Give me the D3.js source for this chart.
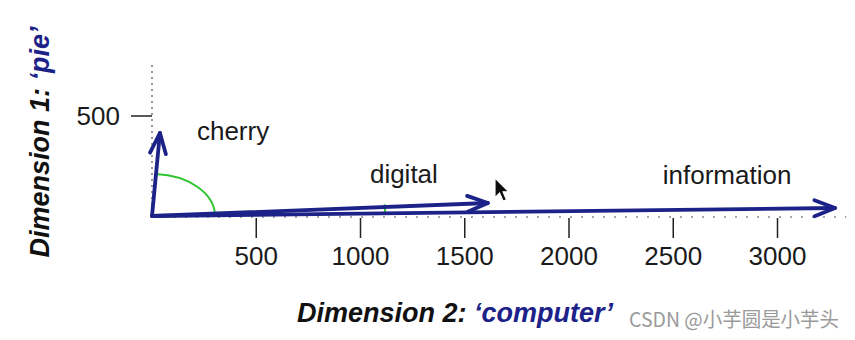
<!DOCTYPE html>
<html>
<head>
<meta charset="utf-8">
<script src="https://cdn.jsdelivr.net/npm/d3@7"></script>
<style>
  html, body { margin: 0; padding: 0; background: #fff; }
  svg { display: block; }
</style>
</head>
<body>
<svg id="chart" width="855" height="340"></svg>
<script>
// Term vectors in the two-dimensional count space
const terms = ["cherry", "digital", "information"];
const computerCounts = [38, 1611, 3276];   // dimension 2
const pieCounts = [415, 65, 40];           // dimension 1
const xTickValues = [500, 1000, 1500, 2000, 2500, 3000];
const yTickValues = [500];
const xTitleParts = ["Dimension 2: ", "\u2018computer\u2019"];
const yTitleParts = ["Dimension 1: ", "\u2018pie\u2019"];
const watermark = "CSDN @\u5c0f\u828b\u5706\u662f\u5c0f\u828b\u5934";

const W = 855, H = 340;
const navy = "#1c2288";
const green = "#2fc52f";
const font = "'Liberation Sans', Arial, Helvetica, sans-serif";

const svg = d3.select("#chart");

const x = d3.scaleLinear().domain([0, 3000]).range([152, 777.5]);
const y = d3.scaleLinear().domain([0, 500]).range([216, 116]);

const vectors = terms.map((t, i) => ({ term: t, cx: computerCounts[i], py: pieCounts[i] }));

// Dotted axis lines through the origin
svg.append("line")
  .attr("x1", x(0)).attr("x2", x(0))
  .attr("y1", y(0) - 151).attr("y2", y(0))
  .attr("stroke", "#555").attr("stroke-width", 1.2)
  .attr("stroke-dasharray", "2,4");

svg.append("line")
  .attr("x1", x(0)).attr("x2", x(3330))
  .attr("y1", y(0) + 1).attr("y2", y(0) + 1)
  .attr("stroke", "#888").attr("stroke-width", 1.6)
  .attr("stroke-dasharray", "2,9");

// X axis ticks and labels
const xt = svg.append("g");
xt.selectAll("line").data(xTickValues).join("line")
  .attr("x1", d => x(d)).attr("x2", d => x(d))
  .attr("y1", y(0) + 2).attr("y2", y(0) + 22)
  .attr("stroke", "#222").attr("stroke-width", 1.5);
xt.selectAll("text").data(xTickValues).join("text")
  .attr("x", d => x(d)).attr("y", 265)
  .attr("text-anchor", "middle")
  .attr("font-family", font).attr("font-size", 26)
  .attr("fill", "#1a1a1a")
  .text(d => d);

// Y axis tick and label
const yt = svg.append("g");
yt.selectAll("line").data(yTickValues).join("line")
  .attr("x1", x(0) - 21).attr("x2", x(0))
  .attr("y1", d => y(d)).attr("y2", d => y(d))
  .attr("stroke", "#222").attr("stroke-width", 1.5);
yt.selectAll("text").data(yTickValues).join("text")
  .attr("x", 120).attr("y", d => y(d) + 9)
  .attr("text-anchor", "end")
  .attr("font-family", font).attr("font-size", 26)
  .attr("fill", "#1a1a1a")
  .text(d => d);

// Angle marks (green) between the vectors
const ox = x(0), oy = y(0);
function onEllipse(v, rx, ry) {
  const dx = x(v.cx) - ox, dy = y(v.py) - oy;
  const t = 1 / Math.sqrt((dx / rx) ** 2 + (dy / ry) ** 2);
  return [ox + t * dx, oy + t * dy];
}
{
  const rx = 63, ry = 42;
  const p0 = onEllipse(vectors[0], rx, ry);
  const p1 = onEllipse(vectors[2], rx, ry);
  svg.append("path")
    .attr("d", `M${p0[0]},${p0[1]} A${rx},${ry} 0 0 1 ${p1[0]},${p1[1]}`)
    .attr("fill", "none").attr("stroke", green).attr("stroke-width", 2);
}
{
  const r = 233;
  const angle = v => Math.atan2(y(v.py) - oy, x(v.cx) - ox);
  const a0 = angle(vectors[1]) - 0.012, a1 = angle(vectors[2]);
  const q0 = [ox + r * Math.cos(a0), oy + r * Math.sin(a0)];
  const q1 = [ox + r * Math.cos(a1), oy + r * Math.sin(a1)];
  svg.append("path")
    .attr("d", `M${q0[0]},${q0[1]} A${r},${r} 0 0 1 ${q1[0]},${q1[1]}`)
    .attr("fill", "none").attr("stroke", green).attr("stroke-width", 2);
}

// Vectors with open chevron heads
const arrows = svg.append("g")
  .attr("fill", "none").attr("stroke", navy)
  .attr("stroke-width", 3.8).attr("stroke-linecap", "round").attr("stroke-linejoin", "round");

// draw information first so digital sits on top of it
[2, 1, 0].forEach(i => {
  const v = vectors[i];
  const tx = x(v.cx), ty = y(v.py);
  arrows.append("line")
    .attr("x1", ox).attr("y1", oy).attr("x2", tx).attr("y2", ty);
  const a = Math.atan2(ty - oy, tx - ox);
  const len = 22, spread = 0.37;
  const l = [tx - len * Math.cos(a - spread), ty - len * Math.sin(a - spread)];
  const r = [tx - len * Math.cos(a + spread), ty - len * Math.sin(a + spread)];
  arrows.append("path")
    .attr("d", `M${l[0]},${l[1]} L${tx},${ty} L${r[0]},${r[1]}`);
});

// Term labels, placed relative to each vector tip
const labelOffset = { cherry: [37, 7, "start"], digital: [-84, -20, "middle"], information: [-108, -24, "middle"] };
svg.append("g").selectAll("text").data(vectors).join("text")
  .attr("x", d => x(d.cx) + labelOffset[d.term][0])
  .attr("y", d => y(d.py) + labelOffset[d.term][1])
  .attr("text-anchor", d => labelOffset[d.term][2])
  .attr("font-family", font).attr("font-size", 26)
  .attr("fill", "#1a1a1a")
  .text(d => d.term);

// Axis titles
const xTitle = svg.append("text")
  .attr("x", 297).attr("y", 322)
  .attr("font-family", font).attr("font-size", 27)
  .attr("font-weight", "bold").attr("font-style", "italic");
xTitle.append("tspan").attr("fill", "#111").text(xTitleParts[0]);
xTitle.append("tspan").attr("fill", navy).text(xTitleParts[1]);

const yTitle = svg.append("text")
  .attr("transform", "translate(49,142) rotate(-90)")
  .attr("text-anchor", "middle")
  .attr("font-family", font).attr("font-size", 27)
  .attr("font-weight", "bold").attr("font-style", "italic");
yTitle.append("tspan").attr("fill", "#111").text(yTitleParts[0]);
yTitle.append("tspan").attr("fill", navy).text(yTitleParts[1]);

// Pointer glyph
svg.append("defs").append("filter").attr("id", "soft")
  .append("feGaussianBlur").attr("stdDeviation", 0.6);
svg.append("path")
  .attr("transform", "translate(495,178) scale(1.15)")
  .attr("d", "M0,0 L0,17 L4,13 L7,20 L10,19 L7,12 L12,12 Z")
  .attr("fill", "#111").attr("stroke", "#fff").attr("stroke-width", 1)
  .attr("filter", "url(#soft)");

// Watermark
svg.append("text")
  .attr("x", 629).attr("y", 327)
  .attr("font-family", "'Noto Sans CJK SC', 'Noto Sans', sans-serif")
  .attr("font-size", 20)
  .attr("textLength", 210).attr("lengthAdjust", "spacingAndGlyphs")
  .attr("fill", "#9a9a9a")
  .text(watermark);
</script>
</body>
</html>
